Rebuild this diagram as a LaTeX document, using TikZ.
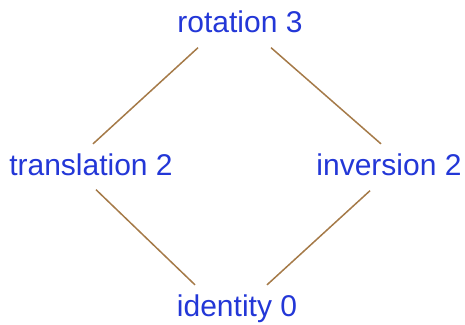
\documentclass[tikz,border=0pt]{standalone}
\usepackage{fontspec}
\setmainfont{Liberation Sans}
\definecolor{labelblue}{RGB}{35,55,215}
\definecolor{edgebrown}{RGB}{165,122,72}
\begin{document}
\begin{tikzpicture}[x=0.5pt, y=0.5pt, font=\fontsize{15}{18}\selectfont,
    sym/.style={text=labelblue, anchor=base, inner sep=5pt},
    edge/.style={edgebrown, line width=0.75pt}]
  \useasboundingbox (0,0) rectangle (465,325);
  % ---- the four symmetry classes ----
  \node[sym] (rot)  at (240,292) {rotation 3};
  \node[sym] (trans) at (91,149) {translation 2};
  \node[sym] (inv)  at (389,149) {inversion 2};
  \node[sym] (iden) at (237,8) {identity 0};
  % ---- order relations ----
  \draw[edge] ([xshift=-21pt,yshift=-2pt]rot.south) -- ([xshift=1pt]trans.north);
  \draw[edge] ([xshift=15.5pt,yshift=-2pt]rot.south) -- ([xshift=-4pt]inv.north);
  \draw[edge] ([xshift=2.5pt,yshift=-1.5pt]trans.south) -- ([xshift=-21pt]iden.north);
  \draw[edge] ([xshift=-9.5pt,yshift=-2pt]inv.south) -- ([xshift=15pt]iden.north);
\end{tikzpicture}
\end{document}
